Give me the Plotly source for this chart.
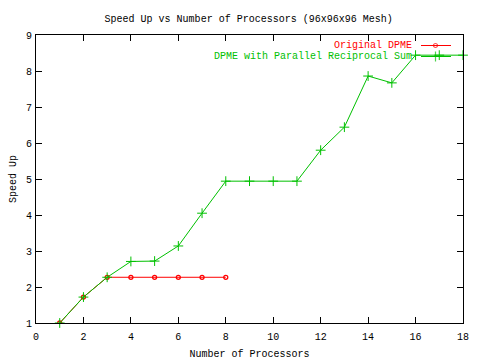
import plotly.graph_objects as go

# Data
procs_orig = [1, 2, 3, 4, 5, 6, 7, 8]
speedup_orig = [1.0, 1.72, 2.27, 2.27, 2.27, 2.27, 2.27, 2.27]

procs_par = list(range(1, 19))
speedup_par = [1.0, 1.72, 2.27, 2.71, 2.72, 3.14, 4.05, 4.94, 4.94, 4.94,
               4.94, 5.80, 6.44, 7.86, 7.67, 8.44, 8.44, 8.44]

series_names = ["Original DPME", "DPME with Parallel Reciprocal Sum"]
series_colors = ["#ff0000", "#00c000"]

title = "Speed Up vs Number of Processors (96x96x96 Mesh)"
xlabel = "Number of Processors"
ylabel = "Speed Up"

FONT = "Liberation Mono"
FS = 10

fig = go.Figure()
fig.add_trace(go.Scatter(
    x=procs_orig, y=speedup_orig, mode="lines+markers",
    line=dict(color=series_colors[0], width=1),
    marker=dict(symbol="circle-open", size=4, color=series_colors[0], line=dict(width=1.3)),
    showlegend=False))
fig.add_trace(go.Scatter(
    x=procs_par, y=speedup_par, mode="lines+markers",
    line=dict(color=series_colors[1], width=1),
    marker=dict(symbol="cross-thin-open", size=7, color=series_colors[1], line=dict(width=1, color=series_colors[1])),
    showlegend=False, cliponaxis=False))

# gnuplot-style key: text at left, sample on the right (overlay axes in paper units)
L, R, T, B = 36, 463, 35, 323
def px(xp):
    return (xp - L) / (R - L)
def py(yp):
    return (B - yp) / (B - T)

key_rows = [45.5, 56.5]
for name, col, yrow, sym, sz in zip(series_names, series_colors, key_rows,
                                   ["circle-open", "cross-thin-open"], [4, 7]):
    fig.add_annotation(x=px(414), y=py(yrow), xref="paper", yref="paper",
                       text=name, showarrow=False, xanchor="right", yanchor="middle",
                       font=dict(family=FONT, size=FS, color=col))
    fig.add_trace(go.Scatter(
        x=[px(421), px(435.5), px(451)], y=[py(yrow)] * 3, xaxis="x2", yaxis="y2",
        mode="lines+markers", line=dict(color=col, width=1),
        marker=dict(symbol=sym, size=[0, sz, 0], color=col, line=dict(width=1.2, color=col)),
        showlegend=False, hoverinfo="skip", cliponaxis=False))

axis_common = dict(showline=True, linecolor="black", linewidth=1, mirror="ticks",
                   ticks="inside", ticklen=6, tickcolor="black", tickwidth=1,
                   showgrid=False, zeroline=False, automargin=False,
                   tickfont=dict(family=FONT, size=FS, color="black"))

fig.update_layout(
    width=480, height=360,
    margin=dict(l=L, r=480 - R, t=T, b=360 - B),
    paper_bgcolor="white", plot_bgcolor="white",
    title=dict(text=title, x=0.518, xanchor="center", y=1 - 18 / 360, yanchor="middle",
               font=dict(family=FONT, size=FS, color="black")),
    xaxis=dict(range=[0, 18], tickmode="array", tickvals=list(range(0, 19, 2)),
               ticklabelstandoff=4,
               title=dict(text=xlabel, font=dict(family=FONT, size=FS, color="black"), standoff=7),
               **axis_common),
    yaxis=dict(range=[1, 9], tickmode="array", tickvals=list(range(1, 10)),
               ticklabelstandoff=1,
               title=dict(text=ylabel, font=dict(family=FONT, size=FS, color="black"), standoff=7),
               **axis_common),
    xaxis2=dict(range=[0, 1], overlaying="x", visible=False),
    yaxis2=dict(range=[0, 1], overlaying="y", visible=False),
)

fig.write_html("out.html")
